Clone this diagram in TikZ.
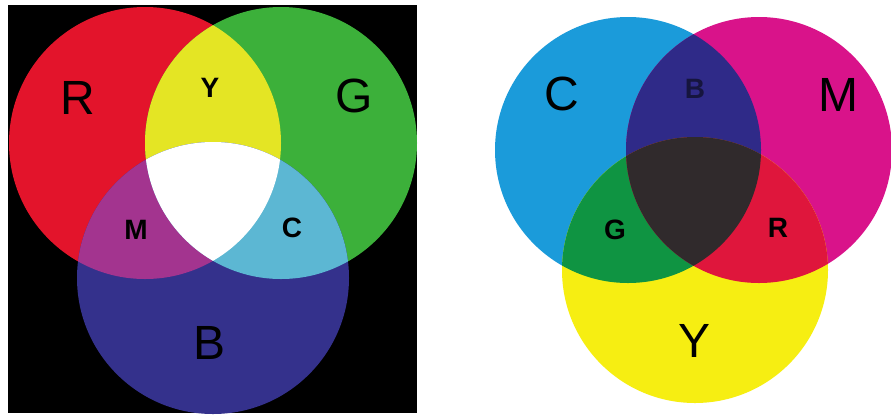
\documentclass[tikz,border=0pt]{standalone}
\usepackage{fontspec}
\setmainfont{Liberation Sans}
\definecolor{lR}{HTML}{E3142B}
\definecolor{lG}{HTML}{3CB03A}
\definecolor{lB}{HTML}{34318C}
\definecolor{lY}{HTML}{E4E524}
\definecolor{lM}{HTML}{A3348F}
\definecolor{lC}{HTML}{5CB7D3}
\definecolor{rC}{HTML}{1B9BDA}
\definecolor{rM}{HTML}{D9138A}
\definecolor{rY}{HTML}{F6EE12}
\definecolor{rB}{HTML}{2F2A88}
\definecolor{rG}{HTML}{0F9442}
\definecolor{rR}{HTML}{DF163C}
\definecolor{rK}{HTML}{302A2C}
\definecolor{labB}{HTML}{16153E}
\tikzset{
  big/.style={font=\fontsize{48}{48}\selectfont, text=black, inner sep=0pt},
  small/.style={font=\fontsize{28}{28}\selectfont\bfseries, text=black, inner sep=0pt},
}
\begin{document}
\begin{tikzpicture}[x=1pt,y=-1pt]
\useasboundingbox (0,0) rectangle (891,416);
\fill[white] (0,0) rectangle (891,416);
% ---------- left panel: additive ----------
\fill[black] (8,5) rectangle (417,413);
\def\cR{(145,143) circle (136pt)}
\def\cG{(281,143) circle (136pt)}
\def\cB{(213,278) circle (136pt)}
\fill[lR] \cR;
\fill[lG] \cG;
\fill[lB] \cB;
\begin{scope}\clip \cR; \fill[lY] \cG; \fill[lM] \cB; \end{scope}
\begin{scope}\clip \cG; \fill[lC] \cB; \end{scope}
\begin{scope}\clip \cR; \clip \cG; \fill[white] \cB; \end{scope}
\node[big]   (lRl) at (78,98)   {R};
\node[big]   (lGl) at (354,96)  {G};
\node[big]   (lBl) at (210,343) {B};
\node[small] (lYl) at (210,88)  {Y};
\node[small] (lMl) at (136,230) {M};
\node[small] (lCl) at (292,228) {C};
% ---------- right panel: subtractive ----------
\def\cC{(628,150) circle (133pt)}
\def\cM{(759,150) circle (133pt)}
\def\cY{(695,270) circle (133pt)}
\fill[rC] \cC;
\fill[rM] \cM;
\fill[rY] \cY;
\begin{scope}\clip \cC; \fill[rB] \cM; \fill[rG] \cY; \end{scope}
\begin{scope}\clip \cM; \fill[rR] \cY; \end{scope}
\begin{scope}\clip \cC; \clip \cM; \fill[rK] \cY; \end{scope}
\node[big]   (rCl) at (562,94)  {C};
\node[big]   (rMl) at (838,95)  {M};
\node[big]   (rYl) at (694,341) {Y};
\node[small,text=labB] (rBl) at (695,89)  {B};
\node[small] (rGl) at (615,230) {G};
\node[small] (rRl) at (778,228) {R};
\end{tikzpicture}
\end{document}
